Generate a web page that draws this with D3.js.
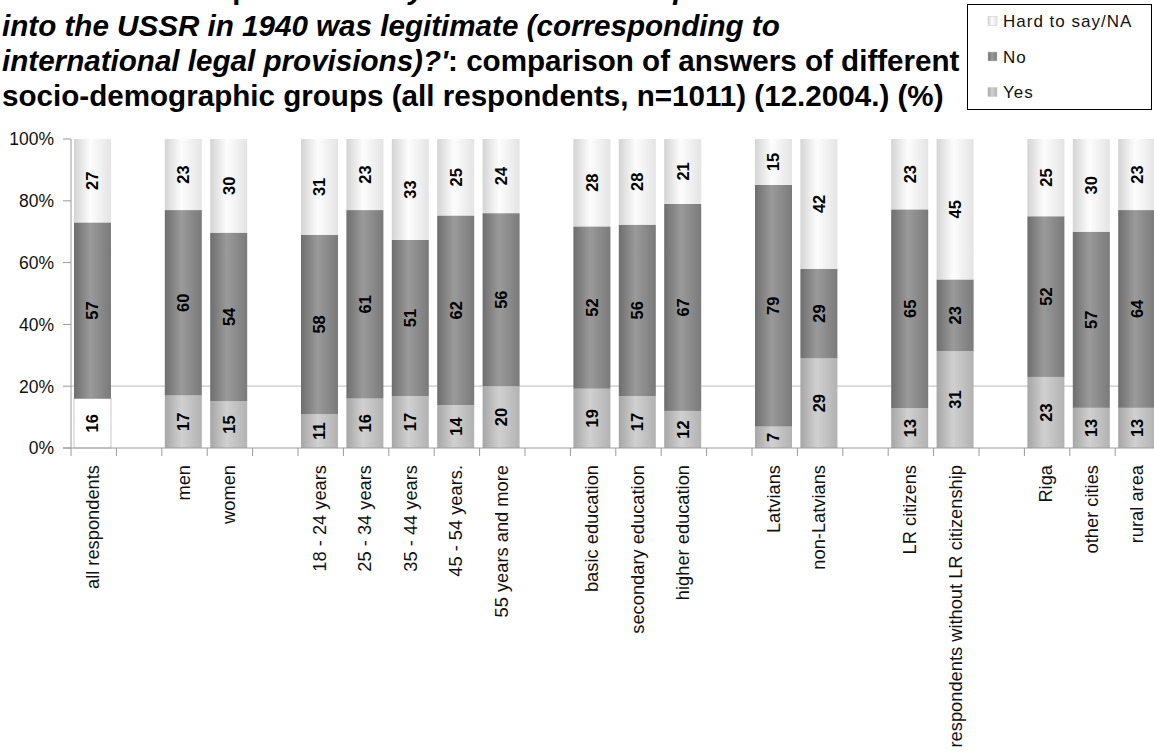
<!DOCTYPE html>
<html>
<head>
<meta charset="utf-8">
<script src="https://cdn.jsdelivr.net/npm/d3@7"></script>
<style>
  html, body { margin: 0; padding: 0; background: #fff; overflow: hidden; }
  svg { display: block; font-family: "Liberation Sans", Arial, sans-serif; }
</style>
</head>
<body>
<svg id="chart" width="1154" height="754"></svg>
<script>
// Socio-demographic groups, in display order
const categories = [
  "all respondents",
  "men", "women",
  "18 - 24 years", "25 - 34 years", "35 - 44 years", "45 - 54 years.", "55 years and more",
  "basic education", "secondary  education", "higher education",
  "Latvians", "non-Latvians",
  "LR citizens", "respondents without LR citizenship",
  "Riga", "other cities", "rural area"
];
// how many categories belong to each block (blocks are separated by an empty slot)
const groupSizes = [1, 2, 5, 3, 2, 2, 3];

// answers, %
const yesValues  = [16, 17, 15, 11, 16, 17, 14, 20, 19, 17, 12, 7, 29, 13, 31, 23, 13, 13];
const noValues   = [57, 60, 54, 58, 61, 51, 62, 56, 52, 56, 67, 79, 29, 65, 23, 52, 57, 64];
const hardValues = [27, 23, 30, 31, 23, 33, 25, 24, 28, 28, 21, 15, 42, 23, 45, 25, 30, 23];

const seriesKeys   = ["yes", "no", "hard"];
const seriesLabels = ["Yes", "No", "Hard to say/NA"];
const yTicks = [0, 20, 40, 60, 80, 100];

const svg = d3.select("#chart");

// ---- layout ----
const plot = { left: 71, top: 139, bottom: 448, slot: 45.4 };

// slot list with empty separators between blocks
const slots = [];
let ci = 0;
groupSizes.forEach((n, gi) => {
  for (let k = 0; k < n; k++) slots.push({ cat: categories[ci], i: ci++ });
  if (gi < groupSizes.length - 1) slots.push({ cat: null });
});
slots.forEach((s, k) => s.slot = k);

const x = d3.scaleBand()
  .domain(d3.range(slots.length))
  .range([plot.left - 1.2, plot.left - 1.2 + slots.length * plot.slot])
  .paddingInner(0.185)
  .paddingOuter(0.0925);

const y = d3.scaleLinear().domain([0, 1]).range([plot.bottom, plot.top]);

const rows = categories.map((c, i) => ({
  cat: c, yes: yesValues[i], no: noValues[i], hard: hardValues[i],
  slot: slots.find(s => s.i === i).slot
}));

const stacked = d3.stack().keys(seriesKeys).offset(d3.stackOffsetExpand)(rows);

// ---- gradients (cylinder shading) ----
const defs = svg.append("defs");
const shades = {
  yes:  ["#a6a6a6", "#d0d0d0", "#b2b2b2"],
  no:   ["#6e6e6e", "#9a9a9a", "#7a7a7a"],
  hard: ["#d4d4d4", "#fdfdfd", "#e4e4e4"],
  blank:["#ffffff", "#ffffff", "#ffffff"]
};
Object.entries(shades).forEach(([k, c]) => {
  const g = defs.append("linearGradient").attr("id", "g-" + k)
    .attr("x1", "0%").attr("x2", "100%").attr("y1", "0%").attr("y2", "0%");
  g.append("stop").attr("offset", "0%").attr("stop-color", c[0]);
  g.append("stop").attr("offset", "45%").attr("stop-color", c[1]);
  g.append("stop").attr("offset", "100%").attr("stop-color", c[2]);
});

// ---- 20% reference line ----
svg.append("line")
  .attr("x1", plot.left).attr("x2", 1154)
  .attr("y1", y(0.2)).attr("y2", y(0.2))
  .attr("stroke", "#c8c8c8").attr("stroke-width", 1.2);

// ---- bars ----
const isBlank = d => d.key === "yes" && d.p.data.cat === "all respondents";
const layers = svg.append("g").selectAll("g").data(stacked).join("g");
layers.selectAll("rect")
  .data(d => d.map(p => ({ key: d.key, p })))
  .join("rect")
  .attr("x", d => x(d.p.data.slot))
  .attr("width", x.bandwidth())
  .attr("y", d => y(d.p[1]))
  .attr("height", d => y(d.p[0]) - y(d.p[1]))
  .attr("fill", d => isBlank(d) ? "url(#g-blank)" : `url(#g-${d.key})`)
  .attr("stroke", d => isBlank(d) ? "#b8b8b8" : "none")
  .attr("stroke-width", 0.8);

// value labels inside segments
layers.selectAll("text")
  .data(d => d.map(p => ({ key: d.key, p })))
  .join("text")
  .attr("transform", d => {
    const cx = x(d.p.data.slot) + x.bandwidth() / 2;
    const cy = (y(d.p[0]) + y(d.p[1])) / 2;
    return `translate(${cx},${cy}) rotate(-90)`;
  })
  .attr("text-anchor", "middle")
  .attr("dy", "0.36em")
  .attr("font-size", 16.5)
  .attr("font-weight", "bold")
  .attr("fill", "#000")
  .text(d => d.p.data[d.key]);

// ---- axes ----
const axisColor = "#9a9a9a";
svg.append("line")
  .attr("x1", plot.left).attr("x2", plot.left)
  .attr("y1", plot.top).attr("y2", plot.bottom)
  .attr("stroke", axisColor);
svg.append("line")
  .attr("x1", plot.left - 8).attr("x2", 1154)
  .attr("y1", plot.bottom).attr("y2", plot.bottom)
  .attr("stroke", axisColor);

const yAxis = svg.append("g").selectAll("g").data(yTicks).join("g")
  .attr("transform", d => `translate(0,${y(d / 100)})`);
yAxis.append("line").attr("x1", plot.left - 8).attr("x2", plot.left).attr("stroke", axisColor);
yAxis.append("text")
  .attr("x", 54).attr("dy", "0.36em")
  .attr("text-anchor", "end").attr("font-size", 17.5).attr("fill", "#111")
  .text(d => d + "%");

// slot boundary ticks
svg.append("g").selectAll("line")
  .data(d3.range(slots.length + 1))
  .join("line")
  .attr("x1", k => plot.left + k * plot.slot)
  .attr("x2", k => plot.left + k * plot.slot)
  .attr("y1", plot.bottom).attr("y2", plot.bottom + 8)
  .attr("stroke", axisColor);

// category labels
svg.append("g").selectAll("text")
  .data(rows)
  .join("text")
  .attr("transform", d => `translate(${x(d.slot) + x.bandwidth() / 2},${plot.bottom + 17}) rotate(-90)`)
  .attr("text-anchor", "end")
  .attr("dy", "0.36em")
  .attr("font-size", 18.3)
  .attr("fill", "#111")
  .text(d => d.cat);

// ---- title (first line runs off the top edge) ----
const titleLines = [
  [["Answers to the question ", false], ["'Do you think the incorporation of Latvia", true]],
  [["into the USSR in 1940 was legitimate (corresponding to", true]],
  [["international legal provisions)?'", true], [": comparison of answers of different", false]],
  [["socio-demographic groups (all respondents, n=1011) (12.2004.) (%)", false]]
];
const lineY = [-1.5, 35.8, 71.1, 106.4];
const title = svg.append("text")
  .attr("font-size", 29.6).attr("font-weight", "bold").attr("fill", "#000");
titleLines.forEach((parts, li) => {
  parts.forEach(([t, it], pi) => {
    const ts = title.append("tspan").text(t).attr("font-style", it ? "italic" : "normal");
    if (pi === 0) ts.attr("x", 2).attr("y", lineY[li]);
  });
});

// ---- legend ----
const legend = svg.append("g");
legend.append("rect")
  .attr("x", 967.5).attr("y", 4.5).attr("width", 184).attr("height", 105)
  .attr("fill", "#fff").attr("stroke", "#000");
const legItems = seriesKeys.map((k, i) => ({ k, label: seriesLabels[i] })).reverse();
const li = legend.selectAll("g").data(legItems).join("g")
  .attr("transform", (d, i) => `translate(988,${21 + i * 35.5})`);
li.append("rect").attr("x", 0).attr("y", -4.5).attr("width", 9).attr("height", 9)
  .attr("fill", d => `url(#g-${d.k})`).attr("stroke", "#c8c8c8").attr("stroke-width", 0.5);
li.append("text").attr("x", 15).attr("dy", "0.36em")
  .attr("font-size", 17).attr("letter-spacing", 1).attr("fill", "#111")
  .text(d => d.label);
</script>
</body>
</html>
